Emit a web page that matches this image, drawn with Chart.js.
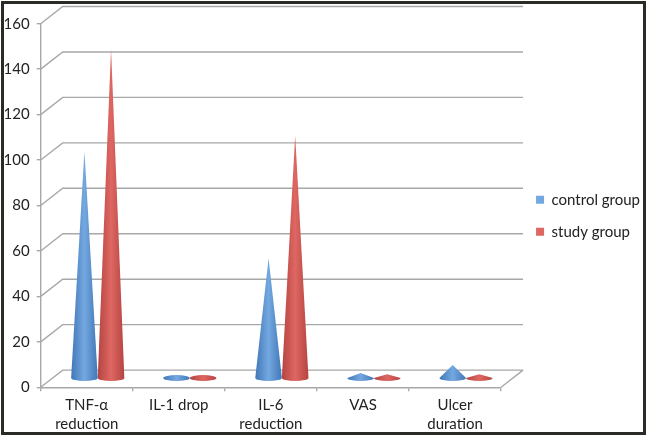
<!DOCTYPE html>
<html><head><meta charset="utf-8">
<style>html,body{margin:0;padding:0;background:#fff}#w{width:647px;height:436px;position:relative}canvas{filter:blur(0.4px)}</style>
<script src="https://cdn.jsdelivr.net/npm/chart.js@4"></script>
</head><body><div id="w"><canvas id="c" width="647" height="436"></canvas></div>
<script>
const categories = [['TNF-α','reduction'],'IL-1 drop',['IL-6','reduction'],'VAS',['Ulcer','duration']];
const controlGroup = [100, 0.5, 53, 2.5, 6];
const studyGroup = [145, 0.5, 107, 2, 2];
const yTicks = [0,20,40,60,80,100,120,140,160];
const FONT = 'Lato';
const GRID = '#a8a8a8';
const DX = 22, DY = 17.2;   // depth of the 3-D box
const RY = 3;               // cone base ellipse half-height

class ConeElement extends Chart.BarElement {
  static id = 'coneEl';
  draw(ctx){
    const o = this.options;
    const cx = this.x + DX/2, by = this.base - DY/2, ay = this.y - DY/2, r = this.width/2;
    const g = ctx.createLinearGradient(cx-r,0,cx+r,0);
    g.addColorStop(0, o.borderColor); g.addColorStop(0.5, o.backgroundColor); g.addColorStop(1, o.borderColor);
    ctx.save();
    ctx.fillStyle = g;
    ctx.beginPath();
    ctx.ellipse(cx, by, r, RY, 0, 0, Math.PI);
    if (by - ay > RY) { ctx.lineTo(cx, ay); }
    else { ctx.ellipse(cx, by, r, Math.max(by-ay, RY), 0, Math.PI, 2*Math.PI); }
    ctx.closePath();
    ctx.fill();
    ctx.restore();
  }
}
class ConeController extends Chart.BarController {
  static id = 'cone';
  static defaults = Object.assign({}, Chart.BarController.defaults, {dataElementType:'coneEl'});
  static overrides = Chart.BarController.overrides;
}
Chart.register(ConeElement, ConeController);

const frame = {
  id:'frame',
  beforeDatasetsDraw(chart){
    const {ctx, chartArea:a, scales:{y}} = chart;
    ctx.save();
    ctx.strokeStyle = GRID; ctx.lineWidth = 1.4;
    yTicks.forEach(v=>{
      const py = y.getPixelForValue(v);
      ctx.beginPath();
      ctx.moveTo(a.left, py); ctx.lineTo(a.left+DX, py-DY); ctx.lineTo(a.right+DX, py-DY);
      ctx.stroke();
    });
    const p0 = y.getPixelForValue(0);
    ctx.beginPath(); ctx.moveTo(a.right,p0); ctx.lineTo(a.right+DX,p0-DY); ctx.stroke();
    ctx.restore();
  },
  afterLayout(chart){
    const l = chart.legend;
    l.left += 18; l.right += 18; l.top -= 14; l.bottom -= 14;
  },
  afterDraw(chart){
    const ctx = chart.ctx;
    ctx.save();
    ctx.strokeStyle = '#2b2b26'; ctx.lineWidth = 3;
    ctx.strokeRect(2.5,2.5,642,431);
    ctx.restore();
  }
};

new Chart(document.getElementById('c'),{
  type:'cone',
  data:{labels:categories,datasets:[
    {label:'control group',data:controlGroup,backgroundColor:'#74a8e0',borderColor:'#4177b8',borderWidth:0,barPercentage:1,categoryPercentage:0.578},
    {label:'study group',data:studyGroup,backgroundColor:'#de6763',borderColor:'#b44440',borderWidth:0,barPercentage:1,categoryPercentage:0.578}
  ]},
  options:{
    responsive:false,animation:false,
    layout:{padding:{left:0,top:23.7,right:15,bottom:0}},
    scales:{
      x:{type:'category',offset:true,
        border:{color:GRID,width:1.4},
        grid:{display:true,drawOnChartArea:false,drawTicks:true,tickLength:4,color:GRID,lineWidth:1.4,offset:true},
        ticks:{color:'#222222',font:{family:FONT,size:15,lineHeight:1.27},padding:4,maxRotation:0,autoSkip:false},
        afterFit(s){s.height=48.7}},
      y:{type:'linear',min:0,max:160,
        border:{color:GRID,width:1.4},
        grid:{drawOnChartArea:false,tickLength:4,color:GRID,lineWidth:1.4},
        ticks:{stepSize:20,color:'#222222',font:{family:FONT,size:15},padding:7},
        afterFit(s){s.width=40.7}}
    },
    plugins:{
      tooltip:{enabled:false},
      legend:{position:'right',labels:{boxWidth:8,boxHeight:8,padding:17,color:'#222222',font:{family:FONT,size:15}}}
    }
  },
  plugins:[frame]
});
</script></body></html>
